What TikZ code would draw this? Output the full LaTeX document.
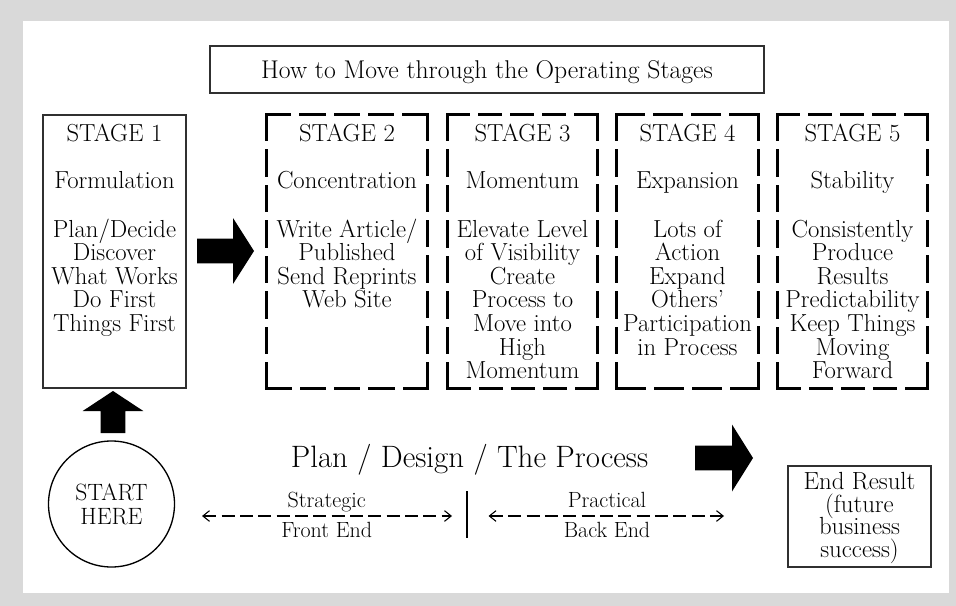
\documentclass[tikz,border=0pt]{standalone}
\usetikzlibrary{arrows.meta}
\definecolor{framegray}{HTML}{D9D9D9}
\definecolor{boxline}{HTML}{303030}

% one dashed side: n dashes, first and last sitting on the corners
\newcommand\dside[3]{%
  \pgfmathsetmacro\dashn{max(1,round((#3+11)/34))}%
  \pgfmathsetmacro\dashl{((#3+11)/\dashn-11)*0.75}%
  \draw[dashline, dash pattern=on \dashl pt off 8.25pt] (#1) -- (#2);}
% dashed frame round a named node (width and height in px units)
\newcommand\dbox[3]{%
  \dside{#1.north west}{#1.north east}{#2}%
  \dside{#1.north east}{#1.south east}{#3}%
  \dside{#1.south east}{#1.south west}{#2}%
  \dside{#1.south west}{#1.north west}{#3}}
% keep a fixed baseline distance even for tall lines
\newcommand\tightlines{\lineskiplimit-100pt\relax}

% multi-line nodes are placed by the baseline of their last line
\tikzset{
  stagetext/.style={font=\fontsize{18.5}{17.7}\selectfont\tightlines,
    align=center, inner sep=0pt, anchor=base},
  titletext/.style={font=\fontsize{19.25}{20}\selectfont, inner sep=0pt, anchor=base},
  bigtext/.style={font=\fontsize{23.2}{24}\selectfont, inner sep=0pt, anchor=base},
  labeltext/.style={font=\fontsize{16.5}{17}\selectfont, inner sep=0pt, anchor=base},
  thinbox/.style={draw=boxline, line width=1pt, inner sep=0pt},
  stagebox/.style={inner sep=0pt, minimum height=204.75pt},
  dashline/.style={line width=2.25pt, line cap=rect},
  guide/.style={line width=0.8pt, dash pattern=on 9.75pt off 4pt,
    {Straight Barb[length=5pt,width=8pt]}-{Straight Barb[length=5pt,width=8pt]}},
  pics/blockarrow/.style n args={3}{code={
    \fill (-#1-#2,-12.3) -- (-#2,-12.3) -- (-#2,-#3) -- (0,0) -- (-#2,#3)
      -- (-#2,12.3) -- (-#1-#2,12.3) -- cycle;}},
}

\begin{document}
\begin{tikzpicture}[x=0.75pt, y=-0.75pt]
  \useasboundingbox (0,0) rectangle (956,606);
  % frame
  \fill[framegray] (0,0) rectangle (956,606);
  \fill[white] (23,21) rectangle (949,593);

  % heading
  \node (head) [thinbox, minimum width=415.5pt, minimum height=35.25pt] at (487,69.5) {};
  \node (headtext) [titletext] at (487,79) {How to Move through the Operating Stages};

  % stage frames
  \node (s1) [thinbox, stagebox, minimum width=107.25pt] at (114.5,251.5) {};
  \node (s2) [stagebox, minimum width=120pt]    at (347,251.5) {};
  \node (s3) [stagebox, minimum width=111.75pt] at (522.5,251.5) {};
  \node (s4) [stagebox, minimum width=105.75pt] at (687.5,251.5) {};
  \node (s5) [stagebox, minimum width=111.75pt] at (852.5,251.5) {};
  \dbox{s2}{160}{273}
  \dbox{s3}{149}{273}
  \dbox{s4}{141}{273}
  \dbox{s5}{149}{273}

  % stage texts
  \node (t1) [stagetext] at (114.5,142) {STAGE 1};
  \node (n1) [stagetext] at (114.5,188.5) {Formulation};
  \node (b1) [stagetext] at (114.5,331.4) {Plan/Decide\\Discover\\What Works\\Do First\\Things First};

  \node (t2) [stagetext] at (347,142) {STAGE 2};
  \node (n2) [stagetext] at (347,188.5) {Concentration};
  \node (b2) [stagetext] at (347,307.8) {Write Article/\\Published\\Send Reprints\\Web Site};

  \node (t3) [stagetext] at (522.5,142) {STAGE 3};
  \node (n3) [stagetext] at (522.5,188.5) {Momentum};
  \node (b3) [stagetext] at (522.5,378.6) {Elevate Level\\of Visibility\\Create\\Process to\\Move into\\High\\Momentum};

  \node (t4) [stagetext] at (687.5,142) {STAGE 4};
  \node (n4) [stagetext] at (687.5,188.5) {Expansion};
  \node (b4) [stagetext] at (687.5,355) {Lots of\\Action\\Expand\\Others’\\Participation\\in Process};

  \node (t5) [stagetext] at (852.5,142) {STAGE 5};
  \node (n5) [stagetext] at (852.5,188.5) {Stability};
  \node (b5) [stagetext] at (852.5,378.6) {Consistently\\Produce\\Results\\Predictability\\Keep Things\\Moving\\Forward};

  % block arrows
  \pic at (254,251) {blockarrow={36}{21}{33}};
  \pic at (753,458) {blockarrow={37}{21}{33.5}};
  \pic[rotate=90] at (113,391) {blockarrow={22}{20}{30.3}};

  % start circle
  \node (start) [circle, draw=black, line width=1pt, minimum size=94.5pt, inner sep=0pt] at (111.5,504) {};
  \node (starttext) [font=\fontsize{17.7}{17.5}\selectfont\tightlines, align=center, inner sep=0pt, anchor=base] at (111.5,524) {START\\HERE};

  % process line
  \node (plan) [bigtext] at (469.5,467) {Plan / Design / The Process};
  \coordinate (fl) at (202,516);
  \coordinate (fr) at (452,516);
  \coordinate (bl) at (488.5,516);
  \coordinate (br) at (724,516);
  \coordinate (dtop) at (467,491);
  \coordinate (dbot) at (467,538);
  \draw[guide] (fl) -- (fr);
  \draw[guide] (bl) -- (br);
  \draw[line width=1pt] (dtop) -- (dbot);
  \node (strat) [labeltext] at (326.7,507) {Strategic};
  \node (front) [labeltext] at (326.7,537) {Front End};
  \node (pract) [labeltext] at (607,507) {Practical};
  \node (back)  [labeltext] at (607,537) {Back End};

  % end result
  \node (endbox) [thinbox, minimum width=107.25pt, minimum height=75.75pt] at (859.5,516.5) {};
  \node (endtext) [font=\fontsize{18.6}{16.9}\selectfont\tightlines, align=center, inner sep=0pt, anchor=base] at (859.5,557.5) {End Result\\(future\\business\\success)};
\end{tikzpicture}
\end{document}
